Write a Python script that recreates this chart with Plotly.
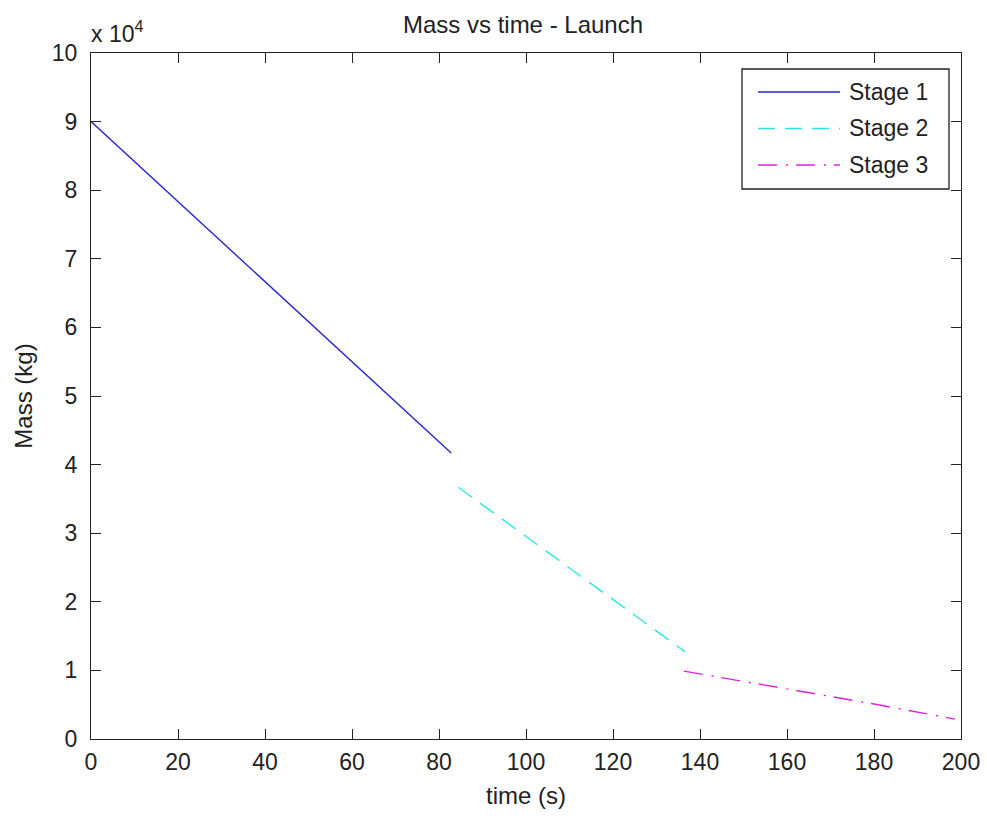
import plotly.graph_objects as go

# Launch mass history, three burn stages (time in s, mass in kg)
stage1_t = [0.0, 20.0, 37.0, 43.4, 60.0, 82.8]
stage1_m = [90000, 78300, 68500, 64700, 55000, 41700]

stage2_t = [84.4, 110.8, 136.6]
stage2_m = [36700, 24600, 12700]

stage3_t = [136.3, 160.0, 180.0, 198.6]
stage3_m = [9900, 7300, 5100, 2900]

stage_names = ["Stage 1", "Stage 2", "Stage 3"]
stage_colors = ["#2626c8", "#2ee6e0", "#e020d8"]
stage_dashes = ["solid", "17px,10px", "19px,9px,2px,8px"]

x_ticks = [0, 20, 40, 60, 80, 100, 120, 140, 160, 180, 200]
y_ticks = [0, 10000, 20000, 30000, 40000, 50000, 60000, 70000, 80000, 90000, 100000]
y_tick_text = ["0", "1", "2", "3", "4", "5", "6", "7", "8", "9", "10"]

FONT = "Liberation Sans, Arial, sans-serif"
TXT = "#222222"

fig = go.Figure()
for t, m, name, col, dash in zip(
    [stage1_t, stage2_t, stage3_t],
    [stage1_m, stage2_m, stage3_m],
    stage_names, stage_colors, stage_dashes,
):
    fig.add_trace(go.Scatter(
        x=t, y=m, mode="lines", name=name,
        line=dict(color=col, width=1.4, dash=dash),
        showlegend=False,
    ))

axis_common = dict(
    showgrid=False, zeroline=False, showline=True, linecolor=TXT,
    linewidth=1.3, mirror="ticks", ticks="inside", ticklen=10,
    tickcolor=TXT, tickwidth=1.3, automargin=False,
    tickfont=dict(family=FONT, size=23, color=TXT),
)

fig.update_xaxes(
    range=[0, 200], tickvals=x_ticks, ticklabelstandoff=2,
    title=dict(text="time (s)", font=dict(family=FONT, size=24, color=TXT), standoff=13),
    **axis_common,
)
fig.update_yaxes(
    range=[0, 100000], tickvals=y_ticks, ticktext=y_tick_text, ticklabelstandoff=8,
    title=dict(text="Mass (kg)", font=dict(family=FONT, size=24, color=TXT), standoff=12),
    **axis_common,
)

# Hand-drawn legend box in the upper right corner
W, H = 987, 816
L, R, T, B = 91, 26, 53, 77
pw, ph = W - L - R, H - T - B


def px(x):
    return (x - L) / pw


def py(y):
    return 1 - (y - T) / ph


lx0, lx1 = 742, 949
ly0, ly1 = 69, 189

shapes = [dict(type="rect", xref="paper", yref="paper",
               x0=px(lx0), x1=px(lx1), y0=py(ly0), y1=py(ly1),
               line=dict(color=TXT, width=1.3), fillcolor="white", layer="above")]
annotations = []
for i, (name, col, dash) in enumerate(zip(stage_names, stage_colors, stage_dashes)):
    yy = 92 + i * 36.5
    shapes.append(dict(type="line", xref="paper", yref="paper",
                       x0=px(758), x1=px(840), y0=py(yy), y1=py(yy),
                       line=dict(color=col, width=1.6, dash=dash), layer="above"))
    annotations.append(dict(xref="paper", yref="paper", x=px(847), y=py(yy),
                            text=name, showarrow=False, xanchor="left", yanchor="middle",
                            font=dict(family=FONT, size=23, color=TXT)))

# Exponent multiplier for the mass axis
annotations.append(dict(xref="paper", yref="paper", x=px(89), y=py(32),
                        text="x 10<sup>4</sup>", showarrow=False,
                        xanchor="left", yanchor="middle",
                        font=dict(family=FONT, size=23, color=TXT)))

fig.update_layout(
    width=W, height=H,
    margin=dict(l=L, r=R, t=T, b=B, autoexpand=False),
    paper_bgcolor="white", plot_bgcolor="white",
    title=dict(text="Mass vs time - Launch", xref="container", x=523 / W, xanchor="center",
               yref="container", y=1 - 25 / H, yanchor="middle",
               font=dict(family=FONT, size=24, color=TXT)),
    shapes=shapes, annotations=annotations,
    showlegend=False,
)

fig.write_html("out.html")
